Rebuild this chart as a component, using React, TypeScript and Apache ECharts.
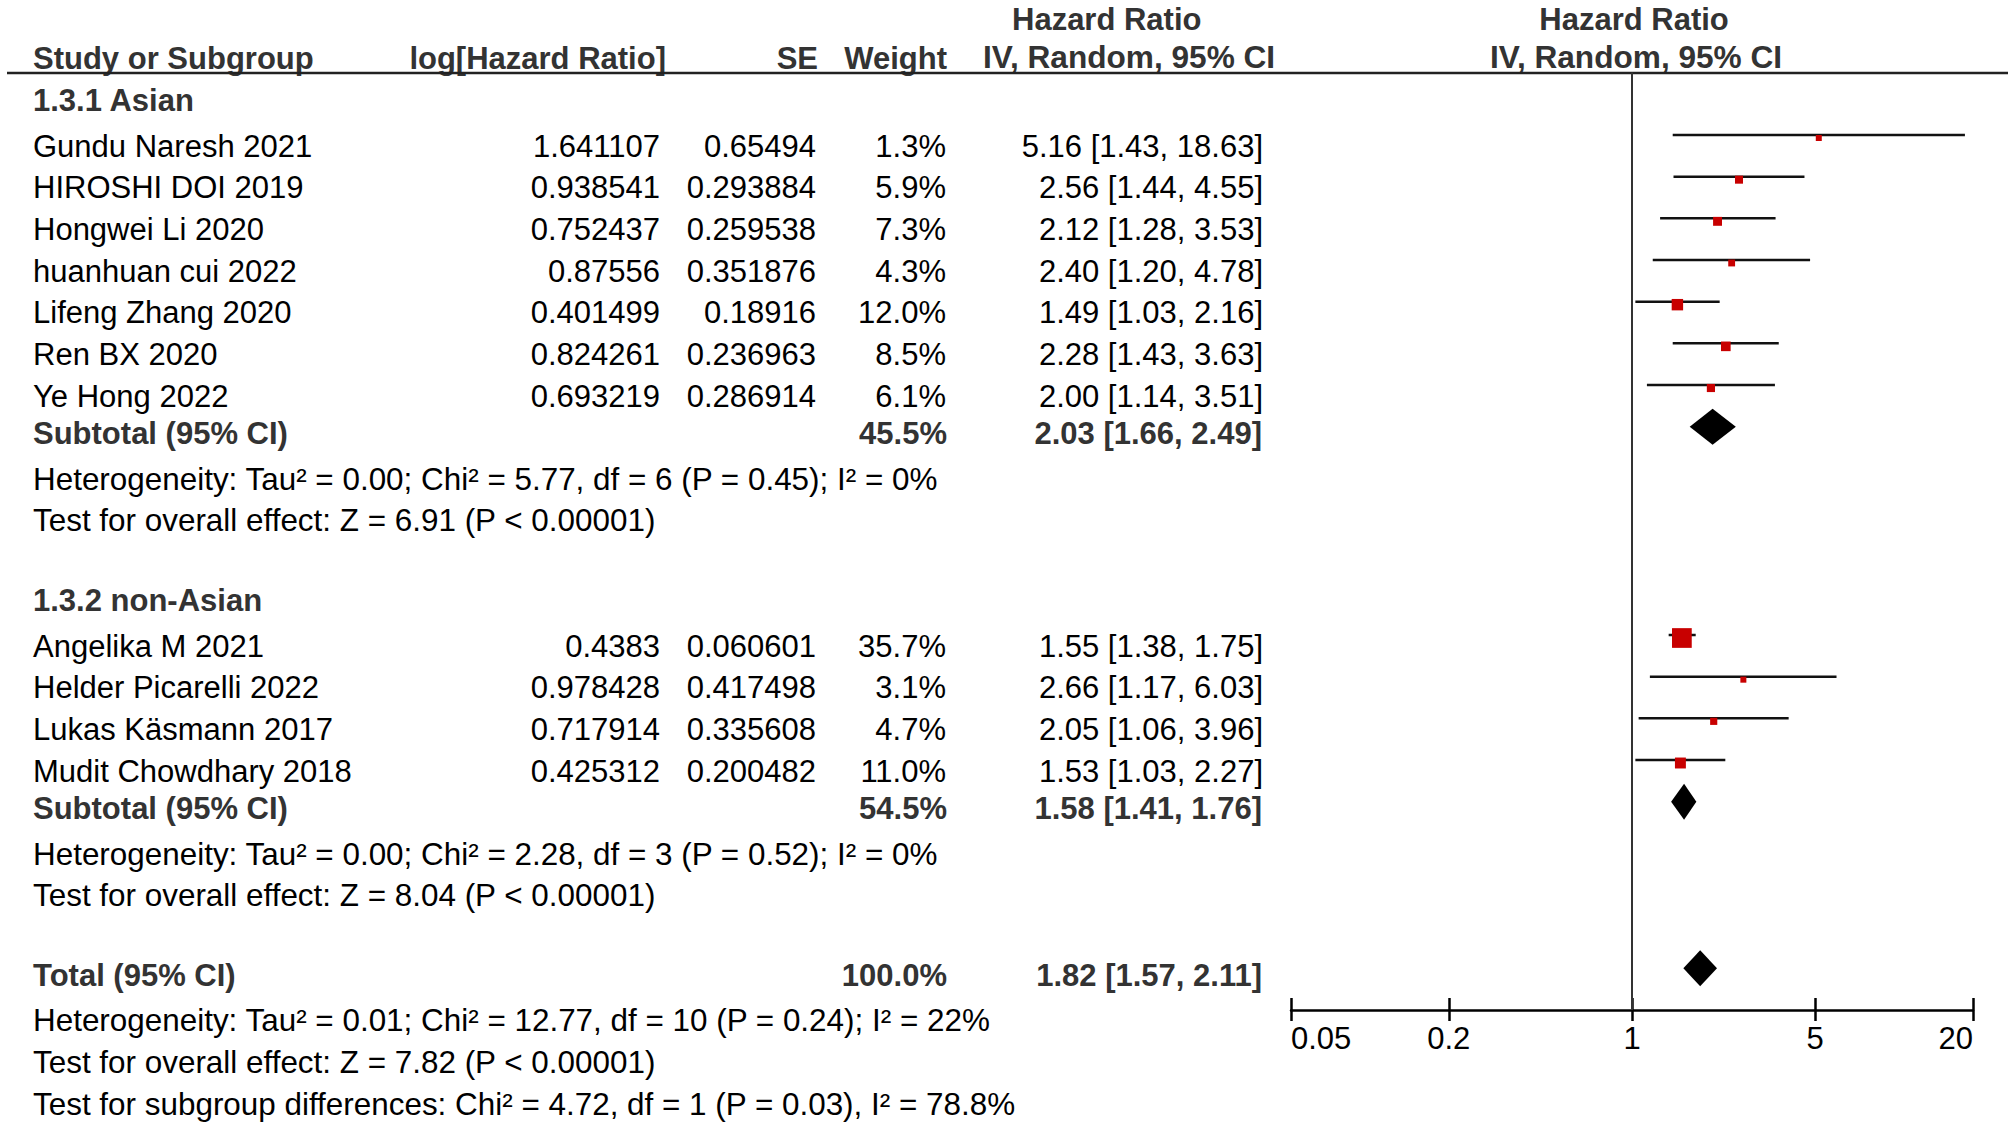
import React, { useEffect, useRef } from "react";
import * as echarts from "echarts";

// ---------- data ----------
const subgroupLabels = ["1.3.1 Asian", "1.3.2 non-Asian"];
const studyNames = [
  "Gundu Naresh 2021",
  "HIROSHI DOI 2019",
  "Hongwei Li 2020",
  "huanhuan cui 2022",
  "Lifeng Zhang 2020",
  "Ren BX 2020",
  "Ye Hong 2022",
  "Angelika M 2021",
  "Helder Picarelli 2022",
  "Lukas Käsmann 2017",
  "Mudit Chowdhary 2018",
];
const studyGroup = [0, 0, 0, 0, 0, 0, 0, 1, 1, 1, 1];
const logHR = [1.641107, 0.938541, 0.752437, 0.87556, 0.401499, 0.824261, 0.693219, 0.4383, 0.978428, 0.717914, 0.425312];
const seValues = [0.65494, 0.293884, 0.259538, 0.351876, 0.18916, 0.236963, 0.286914, 0.060601, 0.417498, 0.335608, 0.200482];
const weights = [1.3, 5.9, 7.3, 4.3, 12.0, 8.5, 6.1, 35.7, 3.1, 4.7, 11.0];
const hrEst = [5.16, 2.56, 2.12, 2.4, 1.49, 2.28, 2.0, 1.55, 2.66, 2.05, 1.53];
const hrLow = [1.43, 1.44, 1.28, 1.2, 1.03, 1.43, 1.14, 1.38, 1.17, 1.06, 1.03];
const hrHigh = [18.63, 4.55, 3.53, 4.78, 2.16, 3.63, 3.51, 1.75, 6.03, 3.96, 2.27];

const subWeight = [45.5, 54.5];
const subEst = [2.03, 1.58];
const subLow = [1.66, 1.41];
const subHigh = [2.49, 1.76];
const subHet = [
  "Heterogeneity: Tau² = 0.00; Chi² = 5.77, df = 6 (P = 0.45); I² = 0%",
  "Heterogeneity: Tau² = 0.00; Chi² = 2.28, df = 3 (P = 0.52); I² = 0%",
];
const subEffect = [
  "Test for overall effect: Z = 6.91 (P < 0.00001)",
  "Test for overall effect: Z = 8.04 (P < 0.00001)",
];

const totalWeight = 100.0;
const totalEst = 1.82;
const totalLow = 1.57;
const totalHigh = 2.11;
const totalHet = "Heterogeneity: Tau² = 0.01; Chi² = 12.77, df = 10 (P = 0.24); I² = 22%";
const totalEffect = "Test for overall effect: Z = 7.82 (P < 0.00001)";
const subgroupDiff = "Test for subgroup differences: Chi² = 4.72, df = 1 (P = 0.03), I² = 78.8%";

const tickValues = [0.05, 0.2, 1, 5, 20];
const nullEffect = 1;

// ---------- layout constants ----------
const W = 2008;
const H = 1128;
const FS = 31;
const FF = '"Liberation Sans", Arial, Helvetica, sans-serif';
const ROW0 = 10;
const ROW_H = 41.667;
const Y_MIN = 1.5;
const PLOT_LEFT = 1291;
const PLOT_WIDTH = 682;
const NOTE_STRETCH = 1.014;

const lg = (v: number) => Math.log10(v);
const rowY = (r: number) => ROW0 + r * ROW_H;

function txt(x: number, y: number, text: string, align: string, bold = false, stretch = 1) {
  return {
    type: "text",
    x,
    y,
    scaleX: stretch,
    silent: true,
    style: {
      text,
      fill: bold ? "#333333" : "#000000",
      fontSize: FS,
      fontFamily: FF,
      fontWeight: bold ? "bold" : "normal",
      textAlign: align,
      align,
      textVerticalAlign: "middle",
      verticalAlign: "middle",
    },
  };
}

function buildOption() {
  const graphics: any[] = [];
  const studyData: any[] = [];
  const diamondData: any[] = [];

  const ciText = (e: number, l: number, h: number) => `${e.toFixed(2)} [${l.toFixed(2)}, ${h.toFixed(2)}]`;

  // header
  graphics.push(txt(1012, 19, "Hazard Ratio", "left", true));
  graphics.push(txt(1634, 19, "Hazard Ratio", "center", true));
  graphics.push(txt(33, 58, "Study or Subgroup", "left", true));
  graphics.push(txt(666, 58, "log[Hazard Ratio]", "right", true));
  graphics.push(txt(818, 58, "SE", "right", true));
  graphics.push(txt(947, 58, "Weight", "right", true));
  graphics.push(txt(983, 58, "IV, Random, 95% CI", "left", true, 1.02));
  graphics.push(txt(1636, 58, "IV, Random, 95% CI", "center", true, 1.02));
  graphics.push({
    type: "line",
    silent: true,
    shape: { x1: 7, y1: 73, x2: W, y2: 73 },
    style: { stroke: "#222222", lineWidth: 2.5 },
  });

  let r = 2;
  subgroupLabels.forEach((label, g) => {
    graphics.push(txt(33, rowY(r) + 7, label, "left", true));
    r++;
    studyNames.forEach((name, i) => {
      if (studyGroup[i] !== g) return;
      const y = rowY(r) + 11;
      graphics.push(txt(33, y, name, "left"));
      graphics.push(txt(660, y, String(logHR[i]), "right"));
      graphics.push(txt(816, y, String(seValues[i]), "right"));
      graphics.push(txt(946, y, weights[i].toFixed(1) + "%", "right"));
      graphics.push(txt(1263, y, ciText(hrEst[i], hrLow[i], hrHigh[i]), "right"));
      studyData.push([lg(hrLow[i]), lg(hrHigh[i]), lg(hrEst[i]), r, weights[i]]);
      r++;
    });
    const ys = rowY(r) + 7;
    graphics.push(txt(33, ys, "Subtotal (95% CI)", "left", true));
    graphics.push(txt(947, ys, subWeight[g].toFixed(1) + "%", "right", true));
    graphics.push(txt(1262, ys, ciText(subEst[g], subLow[g], subHigh[g]), "right", true));
    diamondData.push([lg(subLow[g]), lg(subHigh[g]), lg(subEst[g]), r]);
    r++;
    graphics.push(txt(33, rowY(r) + 11, subHet[g], "left", false, NOTE_STRETCH));
    r++;
    graphics.push(txt(33, rowY(r) + 11, subEffect[g], "left", false, NOTE_STRETCH));
    r++;
    r++; // blank row
  });

  const totalRow = r;
  const yt = rowY(r) + 7;
  graphics.push(txt(33, yt, "Total (95% CI)", "left", true));
  graphics.push(txt(947, yt, totalWeight.toFixed(1) + "%", "right", true));
  graphics.push(txt(1262, yt, ciText(totalEst, totalLow, totalHigh), "right", true));
  diamondData.push([lg(totalLow), lg(totalHigh), lg(totalEst), r]);
  r++;
  graphics.push(txt(33, rowY(r) + 11, totalHet, "left", false, NOTE_STRETCH));
  r++;
  graphics.push(txt(33, rowY(r) + 11, totalEffect, "left", false, NOTE_STRETCH));
  r++;
  graphics.push(txt(33, rowY(r) + 11, subgroupDiff, "left", false, NOTE_STRETCH));

  const yMax = totalRow + 1;
  const gridTop = rowY(Y_MIN);
  const gridHeight = rowY(yMax) - gridTop;
  const tickLogs = tickValues.map(lg);
  const xMin = lg(tickValues[0]);
  const xMax = lg(tickValues[tickValues.length - 1]);
  const fmt = (v: number) => {
    const t = tickValues.find((tv) => Math.abs(lg(tv) - v) < 1e-6);
    return t === undefined ? "" : String(t);
  };
  const axisStroke = { color: "#000000", width: 2.5 };

  return {
    animation: false,
    backgroundColor: "#ffffff",
    grid: { left: PLOT_LEFT, width: PLOT_WIDTH, top: gridTop, height: gridHeight, containLabel: false },
    xAxis: [
      {
        type: "value",
        min: xMin,
        max: xMax,
        position: "bottom",
        axisLine: { show: true, lineStyle: axisStroke },
        axisTick: { show: true, customValues: tickLogs, length: 11, inside: false, lineStyle: axisStroke },
        axisLabel: {
          show: true,
          customValues: tickLogs,
          formatter: fmt,
          margin: 13,
          fontSize: FS,
          fontFamily: FF,
          color: "#000000",
          alignMinLabel: "left",
          alignMaxLabel: "right",
        },
        splitLine: { show: false },
      },
      {
        type: "value",
        min: xMin,
        max: xMax,
        position: "bottom",
        axisLine: { show: false },
        axisTick: { show: true, customValues: tickLogs, length: 12, inside: true, lineStyle: axisStroke },
        axisLabel: { show: false },
        splitLine: { show: false },
      },
    ],
    yAxis: { type: "value", min: Y_MIN, max: yMax, inverse: true, show: false },
    series: [
      {
        type: "line",
        data: [],
        silent: true,
        markLine: {
          silent: true,
          symbol: ["none", "none"],
          label: { show: false },
          lineStyle: { color: "#333333", width: 2, type: "solid" },
          data: [{ xAxis: lg(nullEffect) }],
        },
      },
      {
        type: "custom",
        silent: true,
        encode: { x: [0, 1, 2], y: 3 },
        data: studyData,
        renderItem: (params: any, api: any) => {
          const row = api.value(3);
          const p1 = api.coord([api.value(0), row]);
          const p2 = api.coord([api.value(1), row]);
          const c = api.coord([api.value(2), row]);
          const s = Math.max(6, 3.3 * Math.sqrt(api.value(4)));
          return {
            type: "group",
            children: [
              {
                type: "line",
                shape: { x1: p1[0], y1: p1[1], x2: p2[0], y2: p2[1] },
                style: { stroke: "#111111", lineWidth: 2.5 },
              },
              {
                type: "rect",
                shape: { x: c[0] - s / 2, y: c[1] + 3 - s / 2, width: s, height: s },
                style: { fill: "#c80000" },
              },
            ],
          };
        },
      },
      {
        type: "custom",
        silent: true,
        encode: { x: [0, 1, 2], y: 3 },
        data: diamondData,
        renderItem: (params: any, api: any) => {
          const row = api.value(3);
          const p1 = api.coord([api.value(0), row]);
          const p2 = api.coord([api.value(1), row]);
          const c = api.coord([api.value(2), row]);
          const h = 18;
          return {
            type: "polygon",
            shape: { points: [p1, [c[0], c[1] - h], p2, [c[0], c[1] + h]] },
            style: { fill: "#000000" },
          };
        },
      },
    ],
    graphic: graphics,
  };
}

export default function App() {
  const ref = useRef<HTMLDivElement>(null);
  useEffect(() => {
    document.body.style.margin = "0";
    if (!ref.current) return;
    const chart = echarts.init(ref.current, undefined, { renderer: "svg", width: W, height: H });
    chart.setOption(buildOption() as any);
    return () => chart.dispose();
  }, []);
  return <div ref={ref} style={{ width: W, height: H, background: "#fff" }} />;
}
